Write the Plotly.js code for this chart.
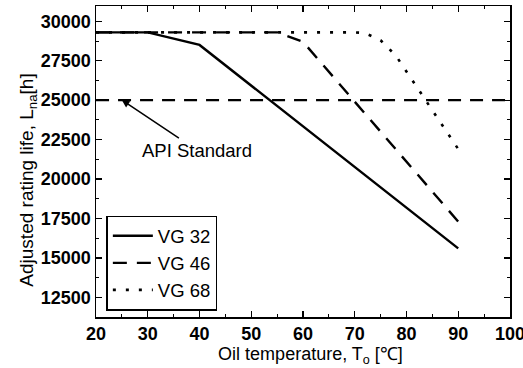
<!DOCTYPE html>
<html><head><meta charset="utf-8">
<script src="https://cdn.plot.ly/plotly-3.0.1.min.js"></script>
<style>body{margin:0;background:#fff}#c{width:523px;height:368px}</style>
</head><body><div id="c"></div>
<script>
const vg32_x = [20, 30, 40, 90];
const vg32_y = [29300, 29300, 28500, 15600];
const vg46_x = [20, 30, 40, 50, 55, 60, 90];
const vg46_y = [29300, 29300, 29300, 29300, 29300, 28700, 17300];
const vg68_x = [20, 30, 40, 50, 60, 70, 72, 75, 78, 90];
const vg68_y = [29300, 29300, 29300, 29300, 29300, 29300, 29250, 28800, 27800, 21900];
const api_x = [20, 100];
const api_y = [25000, 25000];
const names = ["VG 32", "VG 46", "VG 68"];

const F = "Liberation Sans, Arial, sans-serif";
const NB = "&nbsp;";
const traces = [
  {x: api_x, y: api_y, mode: "lines", line: {color: "#000", width: 2.4, dash: "13px,9px"}, showlegend: false},
  {x: vg32_x, y: vg32_y, name: names[0], mode: "lines", line: {color: "#000", width: 2.4}},
  {x: vg46_x, y: vg46_y, name: names[1], mode: "lines", line: {color: "#000", width: 2.4, dash: "14px,10px"}},
  {x: vg68_x, y: vg68_y, name: names[2], mode: "lines", line: {color: "#000", width: 2.6, dash: "3px,10px"}}
];
const axisCommon = {
  showgrid: false, zeroline: false, showline: true, linecolor: "#000", linewidth: 1.5,
  mirror: "ticks", ticks: "inside", ticklen: 6, tickwidth: 1.3, tickcolor: "#000",
  ticklabeloverflow: "allow",
  tickfont: {family: F, size: 18, color: "#000", weight: "bold"}
};
const layout = {
  width: 523, height: 368,
  margin: {l: 96, r: 13, t: 6, b: 51},
  paper_bgcolor: "#fff", plot_bgcolor: "#fff",
  font: {family: F, color: "#000"},
  xaxis: Object.assign({}, axisCommon, {
    range: [19.99, 100.01], dtick: 10, tick0: 20, tickformat: "d",
    minor: {dtick: 5, ticks: "inside", ticklen: 3, tickcolor: "#000", tickwidth: 1},
    title: {text: NB.repeat(3) + "Oil temperature, T<sub>o</sub> [℃]", font: {family: F, size: 18, color: "#000"}, standoff: 1}
  }),
  yaxis: Object.assign({}, axisCommon, {
    range: [11250, 30970], dtick: 2500, tick0: 0, tickformat: "d",
    minor: {dtick: 1250, ticks: "inside", ticklen: 3, tickcolor: "#000", tickwidth: 1},
    title: {text: "Adjusted rating life, L<sub>na</sub>[h]" + NB.repeat(7), font: {family: F, size: 19, color: "#000"}, standoff: 2}
  }),
  legend: {
    x: 0.025, y: 0.02, xanchor: "left", yanchor: "bottom",
    bordercolor: "#000", borderwidth: 1.5, bgcolor: "#fff",
    font: {family: F, size: 18.5, color: "#000"},
    itemwidth: 40, tracegroupgap: 0
  },
  annotations: [{
    x: 25, y: 25000, xref: "x", yref: "y",
    ax: 75, ay: 50,
    text: "API Standard", showarrow: true, arrowhead: 2, arrowsize: 1, arrowwidth: 1.5,
    arrowcolor: "#000", font: {family: F, size: 18.5, color: "#000"}
  }]
};
Plotly.newPlot("c", traces, layout, {displayModeBar: false, staticPlot: true});
</script></body></html>
